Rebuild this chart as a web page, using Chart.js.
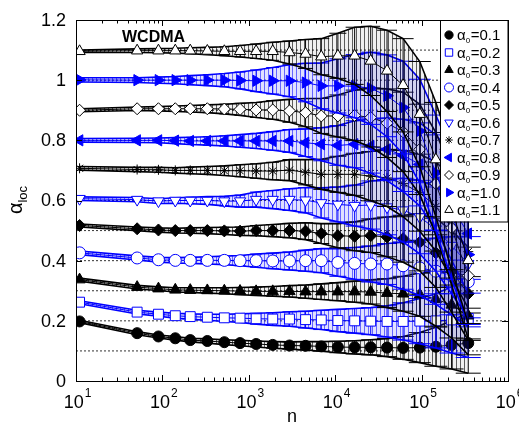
<!DOCTYPE html>
<html>
<head>
<meta charset="utf-8">
<style>
  html, body { margin: 0; padding: 0; background: #fff; }
  #wrap { width: 519px; height: 429px; }
</style>
<script src="https://cdn.jsdelivr.net/npm/chart.js"></script>
</head>
<body>
<div id="wrap"><canvas id="alphaChart" width="519" height="429"></canvas></div>
<script>
// window sizes n where the markers sit
const nVals = [11, 51, 90, 141, 210, 331, 521, 792, 1216, 1892, 2958, 4539, 6902,
  10740, 16790, 25760, 39810, 61090, 95280, 146200, 222300, 346700];

// nominal alpha_0 of each synthetic series
const alpha0 = [0.1, 0.2, 0.3, 0.4, 0.5, 0.6, 0.7, 0.8, 0.9, 1.0, 1.1];

// estimated local exponent alpha_loc(n), one list per alpha_0
const loc01 = [0.198, 0.159, 0.148, 0.142, 0.136, 0.133, 0.129, 0.126, 0.123, 0.120, 0.118, 0.117, 0.115, 0.113, 0.112, 0.112, 0.111, 0.110, 0.111, 0.114, 0.120, 0.126];
const loc02 = [0.262, 0.229, 0.222, 0.217, 0.214, 0.212, 0.210, 0.209, 0.207, 0.206, 0.206, 0.204, 0.203, 0.201, 0.200, 0.199, 0.198, 0.198, 0.199, 0.200, 0.203, 0.208];
const loc03 = [0.337, 0.312, 0.307, 0.303, 0.302, 0.301, 0.300, 0.299, 0.298, 0.298, 0.298, 0.297, 0.297, 0.297, 0.297, 0.296, 0.292, 0.290, 0.287, 0.272, 0.253, 0.217];
const loc04 = [0.426, 0.409, 0.403, 0.401, 0.401, 0.401, 0.401, 0.400, 0.400, 0.399, 0.399, 0.400, 0.400, 0.394, 0.391, 0.389, 0.389, 0.383, 0.376, 0.365, 0.350, 0.330];
const loc05 = [0.517, 0.506, 0.502, 0.500, 0.500, 0.500, 0.499, 0.498, 0.500, 0.500, 0.500, 0.498, 0.490, 0.483, 0.481, 0.483, 0.479, 0.473, 0.461, 0.426, 0.364, 0.290];
const loc06 = [0.606, 0.603, 0.598, 0.600, 0.600, 0.600, 0.598, 0.598, 0.603, 0.603, 0.603, 0.601, 0.592, 0.587, 0.583, 0.585, 0.578, 0.568, 0.545, 0.505, 0.450, 0.390];
const loc07 = [0.707, 0.703, 0.702, 0.700, 0.700, 0.700, 0.699, 0.699, 0.698, 0.698, 0.701, 0.694, 0.687, 0.687, 0.687, 0.681, 0.675, 0.656, 0.626, 0.580, 0.510, 0.430];
const loc08 = [0.800, 0.800, 0.800, 0.799, 0.798, 0.798, 0.798, 0.798, 0.798, 0.798, 0.798, 0.792, 0.787, 0.783, 0.787, 0.781, 0.770, 0.750, 0.720, 0.660, 0.580, 0.490];
const loc09 = [0.900, 0.905, 0.905, 0.905, 0.905, 0.905, 0.904, 0.903, 0.901, 0.901, 0.898, 0.892, 0.881, 0.881, 0.883, 0.876, 0.857, 0.828, 0.770, 0.656, 0.509, 0.350];
const loc10 = [1.001, 1.000, 1.000, 1.000, 1.000, 1.000, 1.000, 0.999, 0.998, 0.998, 0.998, 0.992, 0.981, 0.981, 0.980, 0.973, 0.948, 0.909, 0.831, 0.692, 0.550, 0.420];
const loc11 = [1.096, 1.098, 1.098, 1.098, 1.098, 1.097, 1.096, 1.096, 1.096, 1.096, 1.092, 1.087, 1.078, 1.081, 1.081, 1.064, 1.031, 0.983, 0.887, 0.736, 0.570, 0.401];

// half-width of the error bars at each n
const err01 = [0.004, 0.005, 0.005, 0.006, 0.006, 0.007, 0.008, 0.009, 0.010, 0.011, 0.012, 0.014, 0.016, 0.019, 0.022, 0.025, 0.030, 0.038, 0.050, 0.065, 0.080, 0.100];
const err02 = [0.005, 0.006, 0.007, 0.008, 0.009, 0.010, 0.012, 0.014, 0.018, 0.021, 0.024, 0.028, 0.032, 0.037, 0.041, 0.045, 0.052, 0.062, 0.075, 0.090, 0.110, 0.130];
const err03 = [0.005, 0.006, 0.006, 0.007, 0.008, 0.009, 0.010, 0.012, 0.014, 0.016, 0.019, 0.022, 0.026, 0.030, 0.035, 0.040, 0.048, 0.058, 0.072, 0.090, 0.110, 0.130];
const err04 = [0.006, 0.007, 0.008, 0.009, 0.010, 0.012, 0.014, 0.017, 0.022, 0.026, 0.030, 0.035, 0.040, 0.046, 0.053, 0.060, 0.068, 0.078, 0.092, 0.110, 0.130, 0.150];
const err05 = [0.005, 0.006, 0.007, 0.008, 0.009, 0.010, 0.012, 0.014, 0.017, 0.020, 0.024, 0.028, 0.033, 0.040, 0.048, 0.056, 0.066, 0.078, 0.095, 0.115, 0.135, 0.155];
const err06 = [0.006, 0.007, 0.008, 0.009, 0.011, 0.013, 0.016, 0.020, 0.025, 0.030, 0.036, 0.042, 0.050, 0.058, 0.068, 0.080, 0.092, 0.106, 0.122, 0.140, 0.160, 0.180];
const err07 = [0.006, 0.007, 0.008, 0.009, 0.011, 0.013, 0.016, 0.020, 0.024, 0.029, 0.035, 0.042, 0.050, 0.060, 0.070, 0.082, 0.095, 0.110, 0.128, 0.148, 0.168, 0.188];
const err08 = [0.006, 0.007, 0.008, 0.010, 0.012, 0.014, 0.017, 0.021, 0.025, 0.031, 0.038, 0.046, 0.055, 0.066, 0.078, 0.090, 0.104, 0.120, 0.138, 0.158, 0.178, 0.198];
const err09 = [0.005, 0.006, 0.007, 0.009, 0.011, 0.013, 0.016, 0.020, 0.025, 0.031, 0.038, 0.047, 0.058, 0.070, 0.084, 0.098, 0.114, 0.132, 0.150, 0.170, 0.190, 0.210];
const err10 = [0.007, 0.008, 0.010, 0.012, 0.015, 0.018, 0.022, 0.028, 0.036, 0.044, 0.053, 0.064, 0.076, 0.090, 0.105, 0.120, 0.136, 0.154, 0.172, 0.192, 0.212, 0.232];
const err11 = [0.004, 0.006, 0.007, 0.008, 0.010, 0.012, 0.015, 0.019, 0.024, 0.030, 0.038, 0.048, 0.060, 0.075, 0.095, 0.115, 0.135, 0.155, 0.175, 0.190, 0.200, 0.210];

// axis ticks
const yTicks = [0, 0.2, 0.4, 0.6, 0.8, 1.0, 1.2];
const yTickLabels = ["0", "0.2", "0.4", "0.6", "0.8", "1", "1.2"];
const xTickExp = [1, 2, 3, 4, 5, 6];

const BLUE = "#0000ff";
const FONT = "'Liberation Sans', Arial, Helvetica, sans-serif";

const canvas = document.getElementById("alphaChart");
const mainCtx = canvas.getContext("2d");

// vertical hatching that stands in for the dense error bars
function hatch(dark, light) {
  const c = document.createElement("canvas");
  c.width = 4;
  c.height = 4;
  const g = c.getContext("2d");
  g.fillStyle = light;
  g.fillRect(0, 0, 4, 4);
  g.fillStyle = dark;
  g.fillRect(0, 0, 1, 4);
  return mainCtx.createPattern(c, "repeat");
}
const blackHatch = hatch("rgba(0,0,0,0.62)", "rgba(0,0,0,0.06)");
const blueHatch = hatch("rgba(0,0,255,0.55)", "rgba(60,60,255,0.16)");

const series = [
  { vals: loc01, errs: err01, color: "#000", shape: "circle", rot: 0, filled: true, r: 5.5 },
  { vals: loc02, errs: err02, color: BLUE, shape: "rect", rot: 0, filled: false, r: 7 },
  { vals: loc03, errs: err03, color: "#000", shape: "triangle", rot: 0, filled: true, r: 6.5 },
  { vals: loc04, errs: err04, color: BLUE, shape: "circle", rot: 0, filled: false, r: 6 },
  { vals: loc05, errs: err05, color: "#000", shape: "rectRot", rot: 0, filled: true, r: 6 },
  { vals: loc06, errs: err06, color: BLUE, shape: "triangle", rot: 180, filled: false, r: 6.5 },
  { vals: loc07, errs: err07, color: "#000", shape: "star", rot: 0, filled: true, r: 5 },
  { vals: loc08, errs: err08, color: BLUE, shape: "triangle", rot: -90, filled: true, r: 6.5 },
  { vals: loc09, errs: err09, color: "#000", shape: "rectRot", rot: 0, filled: false, r: 6 },
  { vals: loc10, errs: err10, color: BLUE, shape: "triangle", rot: 90, filled: true, r: 6.5 },
  { vals: loc11, errs: err11, color: "#000", shape: "triangle", rot: 0, filled: false, r: 6.5 }
];

const datasets = [];

// dotted reference level for every alpha_0
alpha0.forEach(function (a) {
  datasets.push({
    data: [{ x: 10, y: a }, { x: 1e6, y: a }],
    borderColor: "#333",
    borderWidth: 1,
    borderDash: [2, 2],
    pointRadius: 0,
    fill: false,
    order: 900
  });
});

series.forEach(function (s, k) {
  const base = 500 - k * 10;
  const hatchFill = s.color === BLUE ? blueHatch : blackHatch;
  datasets.push({
    data: nVals.map((n, i) => ({ x: n, y: s.vals[i] + s.errs[i] })),
    borderColor: s.color,
    borderWidth: 1.6,
    pointRadius: 0,
    fill: "+1",
    backgroundColor: hatchFill,
    order: base
  });
  datasets.push({
    data: nVals.map((n, i) => ({ x: n, y: s.vals[i] - s.errs[i] })),
    borderColor: s.color,
    borderWidth: 1.6,
    pointRadius: 0,
    fill: false,
    order: base - 1
  });
  datasets.push({
    data: nVals.map((n, i) => ({ x: n, y: s.vals[i] })),
    errs: s.errs,
    borderColor: s.color,
    borderWidth: 1,
    fill: false,
    pointStyle: s.shape,
    rotation: s.rot,
    pointRadius: s.r,
    pointBorderWidth: 1,
    pointBorderColor: s.color,
    pointBackgroundColor: s.filled ? s.color : "#fff",
    order: base - 2
  });
});

// error bars with caps, drawn just before each marker series
const errorBars = {
  id: "errorBars",
  beforeDatasetDraw(chart, args) {
    const ds = chart.data.datasets[args.index];
    if (!ds.errs) return;
    const ctx = chart.ctx;
    const a = chart.chartArea;
    const ys = chart.scales.y;
    ctx.save();
    ctx.beginPath();
    ctx.rect(a.left, a.top, a.right - a.left, a.bottom - a.top);
    ctx.clip();
    ctx.strokeStyle = ds.borderColor;
    ctx.lineWidth = 1;
    ctx.beginPath();
    args.meta.data.forEach(function (pt, i) {
      const v = ds.data[i].y;
      const e = ds.errs[i];
      const top = ys.getPixelForValue(v + e);
      const bot = ys.getPixelForValue(v - e);
      const w = 2 + i * 0.5;
      ctx.moveTo(pt.x, top);
      ctx.lineTo(pt.x, bot);
      ctx.moveTo(pt.x - w, top);
      ctx.lineTo(pt.x + w, top);
      ctx.moveTo(pt.x - w, bot);
      ctx.lineTo(pt.x + w, bot);
    });
    ctx.stroke();
    ctx.restore();
  }
};

function marker(ctx, s, x, y, r) {
  const opts = {
    pointStyle: s.shape,
    rotation: s.rot,
    radius: r,
    borderWidth: 1
  };
  ctx.save();
  ctx.strokeStyle = s.color;
  ctx.fillStyle = s.filled ? s.color : "#fff";
  ctx.lineWidth = 1;
  Chart.helpers.drawPoint(ctx, opts, x, y);
  ctx.restore();
}

// axes box, inward ticks, labels, title text and legend
const frame = {
  id: "frame",
  afterDraw(chart) {
    const ctx = chart.ctx;
    const a = chart.chartArea;
    const xs = chart.scales.x;
    const ys = chart.scales.y;
    ctx.save();
    ctx.strokeStyle = "#000";
    ctx.fillStyle = "#000";
    ctx.lineWidth = 1;

    ctx.beginPath();
    for (let e = 1; e <= 6; e++) {
      for (let m = 1; m <= 9; m++) {
        const v = m * Math.pow(10, e);
        if (v > 1e6) break;
        const px = Math.round(xs.getPixelForValue(v)) + 0.5;
        const len = m === 1 ? 6 : 3.5;
        ctx.moveTo(px, a.bottom);
        ctx.lineTo(px, a.bottom - len);
        ctx.moveTo(px, a.top);
        ctx.lineTo(px, a.top + len);
      }
    }
    yTicks.forEach(function (v) {
      const py = Math.round(ys.getPixelForValue(v)) + 0.5;
      ctx.moveTo(a.left, py);
      ctx.lineTo(a.left + 6, py);
      ctx.moveTo(a.right, py);
      ctx.lineTo(a.right - 6, py);
    });
    ctx.stroke();

    // tick labels
    ctx.font = "18px " + FONT;
    ctx.textAlign = "right";
    ctx.textBaseline = "middle";
    yTicks.forEach(function (v, i) {
      ctx.fillText(yTickLabels[i], a.left - 10, ys.getPixelForValue(v) + 1);
    });
    ctx.textAlign = "left";
    ctx.textBaseline = "alphabetic";
    xTickExp.forEach(function (e) {
      const px = xs.getPixelForValue(Math.pow(10, e));
      ctx.font = "18px " + FONT;
      const wBase = ctx.measureText("10").width;
      ctx.font = "12px " + FONT;
      const wExp = ctx.measureText(String(e)).width;
      const x0 = px - (wBase + wExp) / 2 + 1;
      ctx.font = "18px " + FONT;
      ctx.fillText("10", x0, 408);
      ctx.font = "12px " + FONT;
      ctx.fillText(String(e), x0 + wBase + 1, 397);
    });

    // axis titles
    ctx.font = "18px " + FONT;
    ctx.textAlign = "center";
    ctx.fillText("n", (a.left + a.right) / 2, 422);

    ctx.save();
    ctx.translate(22, 200);
    ctx.rotate(-Math.PI / 2);
    ctx.textAlign = "left";
    ctx.font = "20px " + FONT;
    const wa = ctx.measureText("\u03b1").width;
    ctx.font = "13px " + FONT;
    const wl = ctx.measureText("loc").width;
    const start = -(wa + wl) / 2;
    ctx.font = "20px " + FONT;
    ctx.fillText("\u03b1", start, 0);
    ctx.font = "13px " + FONT;
    ctx.fillText("loc", start + wa, 5);
    ctx.restore();

    ctx.font = "bold 16px " + FONT;
    ctx.textAlign = "left";
    ctx.fillText("WCDMA", 122, 41.5);

    // legend box
    const lx = 440.5, ly = a.top, lw = a.right - 440.5, lh = 221.5 - a.top;
    ctx.fillStyle = "#fff";
    ctx.fillRect(lx, ly, lw, lh);
    series.forEach(function (s, i) {
      const yy = 35 + i * 17.5;
      marker(ctx, s, 449, yy, s.r * 0.75);
      ctx.fillStyle = "#000";
      ctx.font = "15px " + FONT;
      ctx.fillText("\u03b1", 457, yy + 5);
      const w1 = ctx.measureText("\u03b1").width;
      ctx.font = "8px " + FONT;
      ctx.fillText("0", 457 + w1, yy + 8);
      ctx.font = "15px " + FONT;
      ctx.fillText("=" + alpha0[i].toFixed(1), 457 + w1 + 5, yy + 5);
    });
    ctx.strokeStyle = "#000";
    ctx.strokeRect(lx, ly + 0.5, lw, lh);

    // plot box
    ctx.strokeRect(Math.round(a.left) + 0.5, Math.round(a.top) + 0.5,
      Math.round(a.right - a.left), Math.round(a.bottom - a.top));
    ctx.restore();
  }
};

new Chart(mainCtx, {
  type: "line",
  data: { datasets: datasets },
  options: {
    responsive: false,
    animation: false,
    events: [],
    layout: { padding: { left: 76, top: 20, right: 11, bottom: 48 } },
    elements: { line: { tension: 0 } },
    plugins: { legend: { display: false }, tooltip: { enabled: false } },
    scales: {
      x: { type: "logarithmic", min: 10, max: 1e6, display: false },
      y: { type: "linear", min: 0, max: 1.2, display: false }
    }
  },
  plugins: [errorBars, frame]
});
</script>
</body>
</html>
